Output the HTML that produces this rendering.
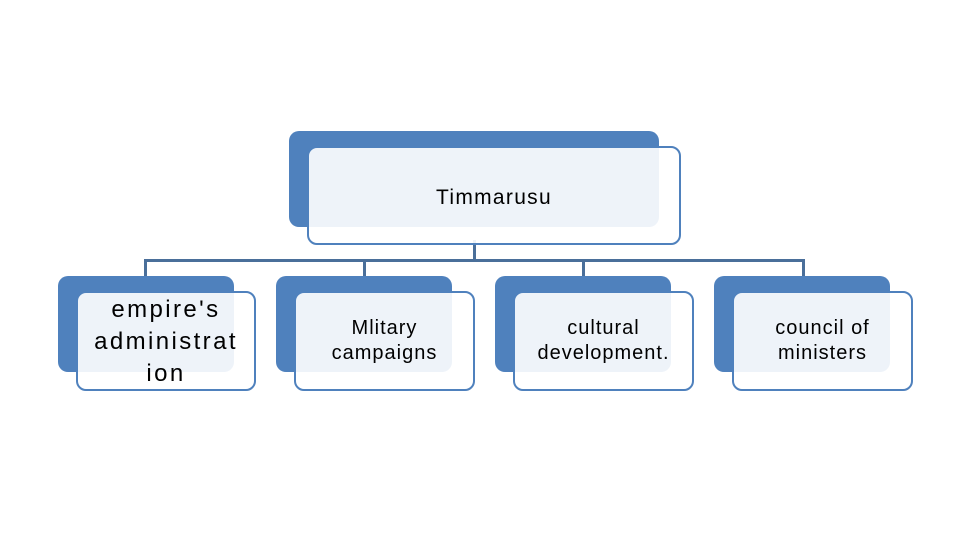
<!DOCTYPE html>
<html><head><style>
body{margin:0;width:960px;height:540px;background:#fff;position:relative;overflow:hidden;font-family:"Liberation Sans",sans-serif;}
.b{position:absolute;background:#4f81bd;border-radius:10px;}
.f{position:absolute;background:rgba(255,255,255,0.9);border:2px solid #4f81bd;border-radius:10px;box-sizing:border-box;display:flex;align-items:center;justify-content:center;text-align:center;color:#000;}
.l{position:absolute;background:#4a6f9a;}
.s{font-size:20px;line-height:25px;letter-spacing:1px;}
</style></head><body>
<div class="l" style="left:473px;top:240px;width:3px;height:22px"></div>
<div class="l" style="left:144px;top:259px;width:661px;height:3px"></div>
<div class="l" style="left:144px;top:259px;width:3px;height:17px"></div>
<div class="l" style="left:363px;top:259px;width:3px;height:17px"></div>
<div class="l" style="left:582px;top:259px;width:3px;height:17px"></div>
<div class="l" style="left:802px;top:259px;width:3px;height:17px"></div>

<div class="b" style="left:289px;top:131px;width:370px;height:96px"></div>
<div class="f" style="left:307px;top:146px;width:374px;height:99px;font-size:21px;letter-spacing:1.3px;padding-top:4px">Timmarusu</div>

<div class="b" style="left:58px;top:276px;width:176px;height:96px"></div>
<div class="f" style="left:76px;top:291px;width:180px;height:100px;font-size:24px;line-height:32px;letter-spacing:2.4px;padding-top:2px;white-space:nowrap">empire's<br>administrat<br>ion</div>

<div class="b" style="left:276px;top:276px;width:176px;height:96px"></div>
<div class="f s" style="left:294px;top:291px;width:181px;height:100px">Mlitary<br>campaigns</div>

<div class="b" style="left:495px;top:276px;width:176px;height:96px"></div>
<div class="f s" style="left:513px;top:291px;width:181px;height:100px">cultural<br>development.</div>

<div class="b" style="left:714px;top:276px;width:176px;height:96px"></div>
<div class="f s" style="left:732px;top:291px;width:181px;height:100px">council of<br>ministers</div>
</body></html>
